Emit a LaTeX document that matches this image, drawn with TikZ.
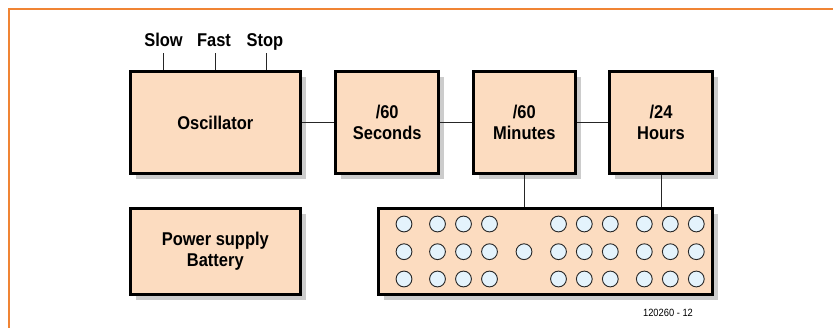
\documentclass[tikz,border=0pt]{standalone}
\usepackage{fontspec}
\setmainfont{Liberation Sans}[FakeStretch=0.89]
\usetikzlibrary{shadows}
\definecolor{frameorange}{RGB}{240,132,52}
\definecolor{boxfill}{RGB}{252,220,192}
\definecolor{ledfill}{RGB}{228,243,252}
\definecolor{shadowgray}{RGB}{204,204,204}
\begin{document}
\begin{tikzpicture}[x=1pt,y=-1pt,
  blockbox/.style={draw=black, line width=3pt, fill=boxfill, inner sep=0pt,
    general shadow={fill=shadowgray, shadow xshift=5.5pt, shadow yshift=-5.5pt},
    align=center, font=\fontsize{18.5}{21}\selectfont\bfseries},
  ctrllabel/.style={inner sep=0pt, anchor=base, font=\fontsize{18.5}{21}\selectfont\bfseries},
  wire/.style={draw=black!85, line width=1pt},
  led/.style={draw=black!85, line width=0.9pt, fill=ledfill}]
\useasboundingbox (0,0) rectangle (833,328);
% orange frame
\draw[frameorange, line width=2pt] (9.3,340) -- (9.3,9.3) -- (845,9.3);
% blocks
\node[blockbox, minimum width=170pt, minimum height=102pt] (osc) at (215.3,122.6) {Oscillator};
\node[blockbox, minimum width=102.7pt, minimum height=102pt] (sec) at (387.2,122.6) {/60\\Seconds};
\node[blockbox, minimum width=102.3pt, minimum height=102pt] (min) at (524.3,122.6) {/60\\Minutes};
\node[blockbox, minimum width=102.4pt, minimum height=102pt] (hrs) at (661,122.6) {/24\\Hours};
\node[blockbox, minimum width=170pt, minimum height=85.7pt] (pwr) at (215.3,251.7) {Power supply\\Battery};
\node[blockbox, minimum width=334pt, minimum height=85.7pt] (disp) at (545.2,251.7) {};
% control labels
\node[ctrllabel] (slow) at (163.5,46.8) {Slow};
\node[ctrllabel] (fast) at (214,46.8) {Fast};
\node[ctrllabel] (stop) at (265,46.8) {Stop};
% connectors
\draw[wire] (osc.north -| 163.3,0) -- ([yshift=-6.3pt]slow.base -| 163.3,0);
\draw[wire] (osc.north -| 215,0) -- ([yshift=-6.3pt]fast.base -| 215,0);
\draw[wire] (osc.north -| 266,0) -- ([yshift=-6.3pt]stop.base -| 266,0);
\draw[wire] (osc.east) -- (sec.west);
\draw[wire] (sec.east) -- (min.west);
\draw[wire] (min.east) -- (hrs.west);
\draw[wire] (min.south) -- (min.south |- disp.north);
\draw[wire] (hrs.south) -- (hrs.south |- disp.north);
% display LEDs
\foreach \x in {404,437.5,463.5,489.5,558.5,584.3,610.3,644.3,670.3,696.3}
  \foreach \y in {224,251.7,279}
    \draw[led] (\x,\y) circle (7.9);
\draw[led] (524,251.7) circle (7.9);
% figure number
\node[inner sep=0pt, font=\fontsize{10.5}{12}\selectfont] (fignum) at (668,313) {120260 - 12};
\end{tikzpicture}
\end{document}
